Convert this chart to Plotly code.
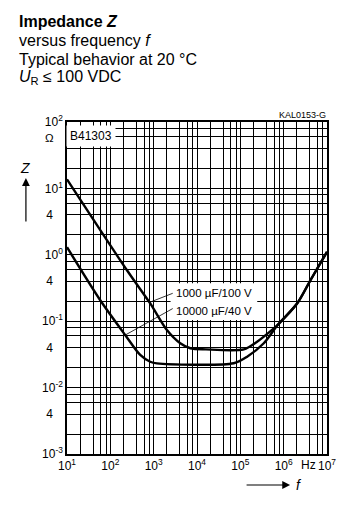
import plotly.graph_objects as go

# ---- data ----
freq_1000uF = [10, 240, 832, 2020, 4110, 7000, 16000, 120000, 244000, 592000, 741000, 2.06e6, 4.18e6, 1.0e7]
z_1000uF = [13.7, 0.59, 0.185, 0.0736, 0.0465, 0.0391, 0.0377, 0.0377, 0.0491, 0.078, 0.089, 0.186, 0.417, 1.11]

freq_10000uF = [10, 58, 220, 489, 832, 1190, 70300, 143500, 347500, 741000, 2.06e6, 4.18e6, 1.0e7]
z_10000uF = [1.30, 0.2085, 0.062, 0.031, 0.0245, 0.0232, 0.0233, 0.0292, 0.0465, 0.089, 0.186, 0.417, 1.11]

label_1000uF = "1000 µF/100 V"
label_10000uF = "10000 µF/40 V"

x_tickvals = [1e1, 1e2, 1e3, 1e4, 1e5, 1e6, 1e7]
x_ticktext = ["10<sup>1</sup>", "10<sup>2</sup>", "10<sup>3</sup>", "10<sup>4</sup>",
              "10<sup>5</sup>", "10<sup>6</sup>", "10<sup>7</sup>"]
x_minor = [k * 10 ** n for n in range(1, 7) for k in (2, 4, 6, 8)]

NB = "\u00a0"
y_tickvals = [1e-3, 4e-3, 1e-2, 4e-2, 1e-1, 4e-1, 1e0, 4e0, 1e1, 1e2]
y_ticktext = ["10<sup>-3</sup>", "4" + NB * 3, "10<sup>-2</sup>", "4" + NB * 3,
              "10<sup>-1</sup>", "4" + NB * 3, "10<sup>0</sup>", "4" + NB * 3,
              "10<sup>1</sup>", "10<sup>2</sup>"]
y_minor = [k * 10.0 ** n for n in range(-3, 2) for k in (2, 4, 6, 8)]

FONT = "Liberation Sans, Arial, sans-serif"

fig = go.Figure()
fig.add_trace(go.Scatter(x=freq_1000uF, y=z_1000uF, mode="lines",
                         line=dict(color="black", width=2.4, shape="spline", smoothing=0.8),
                         name=label_1000uF, showlegend=False, hoverinfo="skip"))
fig.add_trace(go.Scatter(x=freq_10000uF, y=z_10000uF, mode="lines",
                         line=dict(color="black", width=2.4, shape="spline", smoothing=0.8),
                         name=label_10000uF, showlegend=False, hoverinfo="skip"))

axis_common = dict(type="log", showgrid=True, gridcolor="black", gridwidth=1,
                   showline=True, mirror=True, linecolor="black", linewidth=1.5,
                   ticks="", zeroline=False, tickmode="array",
                   tickfont=dict(family=FONT, size=12, color="black"))

fig.update_xaxes(range=[1, 7], tickvals=x_tickvals, ticktext=x_ticktext,
                 minor=dict(tickmode="array", tickvals=x_minor, showgrid=True,
                            gridcolor="black", gridwidth=1, ticks=""),
                 **axis_common)
fig.update_yaxes(range=[-3, 2], tickvals=y_tickvals, ticktext=y_ticktext,
                 minor=dict(tickmode="array", tickvals=y_minor, showgrid=True,
                            gridcolor="black", gridwidth=1, ticks=""),
                 **axis_common)

# white box behind curve labels (shape coordinates in data units)
fig.add_shape(type="rect", xref="x", yref="y", x0=2455, x1=245500, y0=0.1047, y1=0.3715,
              fillcolor="white", line=dict(width=0), layer="above")
# leader lines
fig.add_shape(type="line", xref="x", yref="y", x0=2754, y0=0.263, x1=776, y1=0.1905,
              line=dict(color="black", width=0.8), layer="above")
fig.add_shape(type="line", xref="x", yref="y", x0=2754, y0=0.155, x1=219, y1=0.0617,
              line=dict(color="black", width=0.8), layer="above")

annos = []
annos.append(dict(x=3.475, y=-0.58, xref="x", yref="y", text=label_1000uF, showarrow=False,
                  xanchor="left", yanchor="middle", font=dict(family=FONT, size=11.5, color="black")))
annos.append(dict(x=3.475, y=-0.842, xref="x", yref="y", text=label_10000uF, showarrow=False,
                  xanchor="left", yanchor="middle", font=dict(family=FONT, size=11.5, color="black")))
# B41303 box
annos.append(dict(x=1.555, y=1.789, xref="x", yref="y", text="B41303", showarrow=False,
                  xanchor="center", yanchor="middle", bgcolor="white", borderpad=3,
                  font=dict(family=FONT, size=12, color="black")))
# Hz
annos.append(dict(x=6.575, y=0, xref="x", yref="paper", text="Hz", showarrow=False,
                  xanchor="center", yanchor="top", yshift=-2,
                  font=dict(family=FONT, size=12, color="black")))
# Ohm
annos.append(dict(x=-0.0654, y=0.952, xref="paper", yref="paper", text="Ω", showarrow=False,
                  xanchor="center", yanchor="middle", font=dict(family=FONT, size=11.5, color="black")))
# Z axis title and arrow
annos.append(dict(x=-0.16, y=0.861, xref="paper", yref="paper", text="<i>Z</i>", showarrow=False,
                  xanchor="center", yanchor="middle", font=dict(family=FONT, size=14, color="black")))
annos.append(dict(x=-0.158, y=0.831, xref="paper", yref="paper", text="", showarrow=True,
                  ax=0, ay=45, arrowhead=2, arrowsize=1.3, arrowwidth=1.2, arrowcolor="black"))
# f axis title and arrow
annos.append(dict(x=0.858, y=-0.0934, xref="paper", yref="paper", text="", showarrow=True,
                  ax=-45, ay=0, arrowhead=2, arrowsize=1.3, arrowwidth=1.2, arrowcolor="black"))
annos.append(dict(x=0.872, y=-0.0934, xref="paper", yref="paper", text="<i>f</i>", showarrow=False,
                  xanchor="left", yanchor="middle", font=dict(family=FONT, size=14, color="black")))
# KAL code
annos.append(dict(x=1.004, y=1.021, xref="paper", yref="paper", text="KAL0153-G", showarrow=False,
                  xanchor="right", yanchor="middle", font=dict(family=FONT, size=9, color="black")))
# title block
title_lines = ["<b>Impedance <i>Z</i></b>", "versus frequency <i>f</i>",
               "Typical behavior at 20 °C", "<i>U</i><sub>R</sub> ≤ 100 VDC"]
title_y = [1.304, 1.244, 1.187, 1.133]
for t, yy in zip(title_lines, title_y):
    annos.append(dict(x=-0.1923, y=yy, xref="paper", yref="paper", text=t, showarrow=False,
                      xanchor="left", yanchor="middle", font=dict(family=FONT, size=16, color="black")))

fig.update_layout(width=354, height=508, margin=dict(l=67, r=27, t=122, b=54),
                  paper_bgcolor="white", plot_bgcolor="white", annotations=annos,
                  showlegend=False)

fig.write_html("out.html")
